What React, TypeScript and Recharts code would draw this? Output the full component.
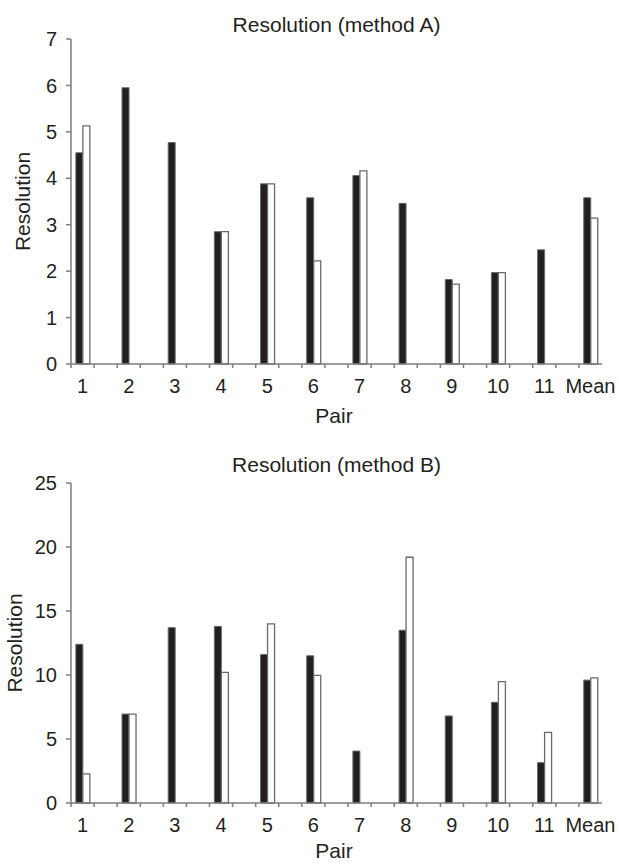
import React from 'react';
import { BarChart, Bar, XAxis, YAxis } from 'recharts';

// values (black = first bar, white = second bar)
const pairs = ['1', '2', '3', '4', '5', '6', '7', '8', '9', '10', '11', 'Mean'];
const methodABlack = [4.55, 5.95, 4.77, 2.85, 3.88, 3.58, 4.06, 3.46, 1.82, 1.97, 2.46, 3.58];
const methodAWhite = [5.13, null, null, 2.85, 3.88, 2.22, 4.16, null, 1.72, 1.97, null, 3.14];
const methodBBlack = [12.4, 6.95, 13.7, 13.8, 11.6, 11.5, 4.06, 13.5, 6.8, 7.87, 3.15, 9.6];
const methodBWhite = [2.27, 6.95, null, 10.2, 14.0, 9.97, null, 19.2, null, 9.48, 5.52, 9.77];
const ticksA = [0, 1, 2, 3, 4, 5, 6, 7];
const ticksB = [0, 5, 10, 15, 20, 25];

const FONT = '"Liberation Sans", Arial, sans-serif';
const INK = '#231f20';
const AXIS = '#7d7d7d';
const WIDTH = 619;
const Y_W = 50;
const M_LEFT = 21;
const M_RIGHT = 17;
const PLOT_W = WIDTH - M_LEFT - Y_W - M_RIGHT;
const SLOTS = pairs.length * 2 - 1;
const BAND = PLOT_W / SLOTS;

// pairs separated by an empty slot, like the original spreadsheet chart
const buildRows = (black: (number | null)[], white: (number | null)[]) => {
  const rows: { label: string; black: number | null; white: number | null }[] = [];
  pairs.forEach((p, i) => {
    rows.push({ label: p, black: black[i], white: white[i] });
    if (i < pairs.length - 1) rows.push({ label: '', black: null, white: null });
  });
  return rows;
};

const XTick = (props: any) => {
  const { x, y, payload } = props;
  const left = x - BAND / 2;
  return (
    <g>
      <line x1={left} y1={y} x2={left} y2={y + 4} stroke={AXIS} strokeWidth={1.5} />
      {payload.value ? (
        <text x={x} y={y + 29} textAnchor="middle" fontSize={20} fill={INK} fontFamily={FONT}>
          {payload.value}
        </text>
      ) : null}
    </g>
  );
};

const YTitle = ({ cx, cy }: any) => (
  <text
    x={0}
    y={0}
    transform={`translate(${cx}, ${cy}) rotate(-90)`}
    textAnchor="middle"
    dominantBaseline="central"
    fontSize={21}
    fill={INK}
    fontFamily={FONT}
  >
    Resolution
  </text>
);

const XTitle = ({ baseline }: any) => (
  <text x={334} y={baseline} textAnchor="middle" fontSize={21} fill={INK} fontFamily={FONT}>
    Pair
  </text>
);

type PanelProps = {
  title: string;
  rows: any[];
  ticks: number[];
  top: number;
  height: number;
  plotTop: number;
  plotBottom: number;
  labelX: number;
  pairBaseline: number;
};

const Panel = ({ title, rows, ticks, top, height, plotTop, plotBottom, labelX, pairBaseline }: PanelProps) => (
  <div style={{ position: 'absolute', left: 0, top, width: WIDTH, height }}>
    <div
      style={{
        position: 'absolute',
        left: M_LEFT + Y_W,
        top: 14,
        width: PLOT_W,
        textAlign: 'center',
        fontFamily: FONT,
        fontSize: 21,
        lineHeight: '21px',
        color: INK,
        zIndex: 2,
      }}
    >
      {title}
    </div>
    <BarChart
      width={WIDTH}
      height={height}
      data={rows}
      barGap={0}
      barCategoryGap="21%"
      margin={{ top: plotTop, left: M_LEFT, right: M_RIGHT, bottom: height - plotBottom - 60 }}
    >
      <XAxis
        dataKey="label"
        interval={0}
        height={60}
        tickLine={false}
        tickSize={0}
        tickMargin={0}
        axisLine={{ stroke: AXIS, strokeWidth: 1.5 }}
        tick={<XTick />}
        label={<XTitle baseline={pairBaseline} />}
      />
      <YAxis
        width={Y_W}
        domain={[ticks[0], ticks[ticks.length - 1]]}
        ticks={ticks}
        interval={0}
        tickSize={5}
        tickMargin={9}
        axisLine={{ stroke: AXIS, strokeWidth: 1.5 }}
        tickLine={{ stroke: AXIS, strokeWidth: 1.5 }}
        tick={{ fontSize: 20, fill: INK, fontFamily: FONT }}
        label={<YTitle cx={labelX} cy={(plotTop + plotBottom) / 2} />}
      />
      <Bar dataKey="black" fill="#231f20" stroke="#6a6a6a" strokeWidth={1} isAnimationActive={false} />
      <Bar dataKey="white" fill="#ffffff" stroke="#6a6a6a" strokeWidth={1.3} isAnimationActive={false} />
    </BarChart>
  </div>
);

export default function App() {
  return (
    <div style={{ position: 'absolute', left: 0, top: 0, width: WIDTH, height: 865, background: '#fff' }}>
      <Panel
        title="Resolution (method A)"
        rows={buildRows(methodABlack, methodAWhite)}
        ticks={ticksA}
        top={0}
        height={440}
        plotTop={39}
        plotBottom={364}
        labelX={22}
        pairBaseline={423}
      />
      <Panel
        title="Resolution (method B)"
        rows={buildRows(methodBBlack, methodBWhite)}
        ticks={ticksB}
        top={440}
        height={425}
        plotTop={43}
        plotBottom={363}
        labelX={14}
        pairBaseline={418}
      />
    </div>
  );
}
